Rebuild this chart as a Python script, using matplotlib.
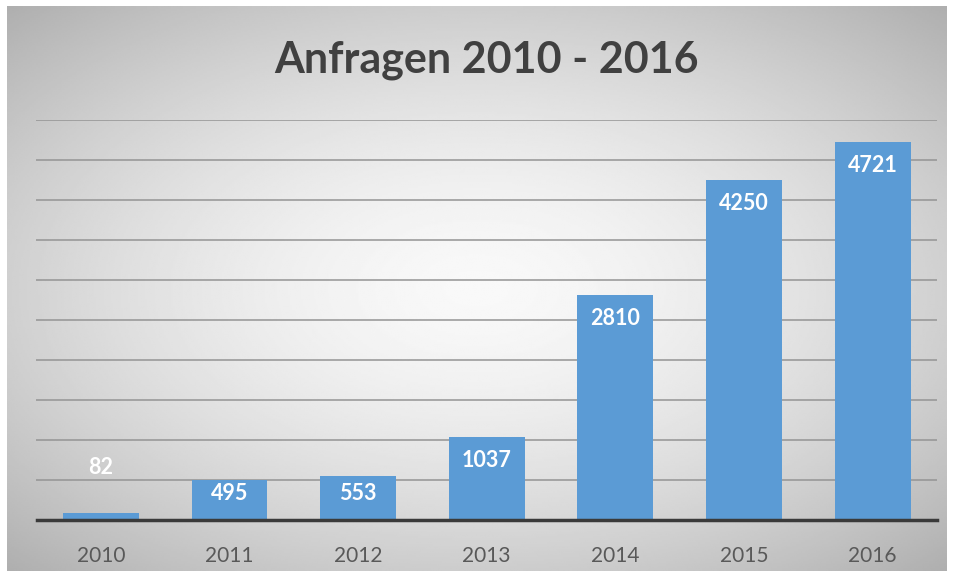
import numpy as np
import matplotlib
matplotlib.use("Agg")
import matplotlib.pyplot as plt

years = ["2010", "2011", "2012", "2013", "2014", "2015", "2016"]
requests = [82, 495, 553, 1037, 2810, 4250, 4721]
title = "Anfragen 2010 - 2016"

plt.rcParams["font.family"] = ["Lato", "DejaVu Sans"]

W, H = 954, 577
fig = plt.figure(figsize=(W / 100, H / 100), dpi=100)
fig.patch.set_facecolor("white")

# radial grey gradient behind the chart
bg = fig.add_axes([7 / W, 6 / H, 940 / W, 565 / H])
bg.set_axis_off()
yy, xx = np.mgrid[-1:1:300j, -1:1:500j]
r = np.sqrt((xx * 1.0) ** 2 + (yy * 1.05) ** 2)
shade = np.clip(0.975 - 0.16 * r ** 1.6, 0, 1)
bg.imshow(shade, cmap="gray", vmin=0, vmax=1, aspect="auto", interpolation="bilinear")

ax = fig.add_axes([36.5 / W, 1 - 520 / H, (937 - 36.5) / W, 400 / H])
ax.patch.set_alpha(0)

x = np.arange(len(years))
ax.bar(x, requests, width=0.59, color="#5B9BD5", zorder=3)

ax.set_ylim(0, 5000)
ax.set_xlim(-0.5, len(years) - 0.5)
ax.set_yticks(np.arange(0, 5001, 500))
ax.yaxis.grid(True, color="#949494", linewidth=1.1, zorder=1)
ax.tick_params(axis="y", left=False, labelleft=False)
ax.tick_params(axis="x", bottom=False, labelsize=15, labelcolor="#595959", pad=15)
ax.set_xticks(x)
ax.set_xticklabels(years)
for s in ["top", "right", "left"]:
    ax.spines[s].set_visible(False)
ax.spines["bottom"].set_color("#3a3a3a")
ax.spines["bottom"].set_linewidth(2.5)
ax.spines["bottom"].set_zorder(4)

for xi, v in zip(x, requests):
    if v < 300:
        ypos = v + 570
    else:
        ypos = max(v - 290, 337)
    ax.text(xi, ypos, str(v), ha="center", va="center", color="white",
            fontsize=15.5, fontweight="bold", zorder=5)

fig.text(486 / W, 1 - 60 / H, title, ha="center", va="center", fontsize=31,
         fontweight="bold", color="#404040")

fig.savefig("out.png", dpi=100)
